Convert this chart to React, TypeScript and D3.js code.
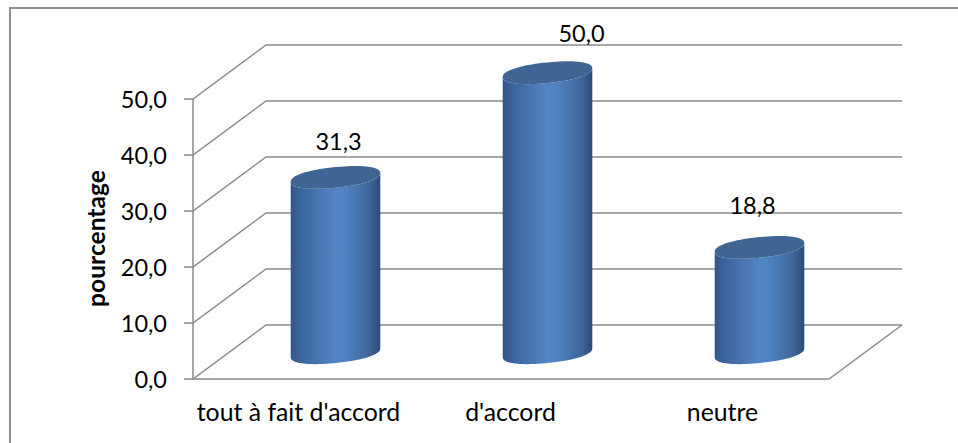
import React from "react";
import * as d3 from "d3";

// Survey responses, in percent
const categories = ["tout à fait d'accord", "d'accord", "neutre"];
const percentages = [31.3, 50.0, 18.8];
const valueLabels = ["31,3", "50,0", "18,8"];
const yTicks = [0, 10, 20, 30, 40, 50];
const yTickLabels = ["0,0", "10,0", "20,0", "30,0", "40,0", "50,0"];
const yAxisTitle = "pourcentage";

// Hand-placed offsets of the value labels from the top of each cylinder
const labelDx = [3, 34, -7];
const labelDy = [-34, -38, -40];

const WIDTH = 958;
const HEIGHT = 443;
const FONT = "Lato, 'Open Sans', sans-serif";
const GRID = "#8a8a8a";

// Front plane of the box and the depth offset towards the back wall
const FRONT_LEFT = 193;
const FRONT_RIGHT = 829;
const FRONT_BOTTOM = 379;
const FRONT_TOP = 99;
const DEPTH_X = 73;
const DEPTH_Y = -54;

const x = d3.scaleBand<string>().domain(categories).range([FRONT_LEFT, FRONT_RIGHT]);
const y = d3.scaleLinear().domain([0, 50]).range([FRONT_BOTTOM, FRONT_TOP]);

// Cylinder cross-section, a sheared and slightly squared ellipse
const RX = 44.8;
const SHEAR = 4.4;
const RY = 10.3;
const ROUNDNESS = 0.9;
const CYLINDER_SHIFT = 0.7;
const bulge = (v: number) => Math.sign(v) * Math.pow(Math.abs(v), ROUNDNESS);
const ellipsePoint = (cx: number, cy: number, t: number): [number, number] => [
  cx + RX * bulge(Math.cos(t)),
  cy - SHEAR * bulge(Math.cos(t)) - RY * bulge(Math.sin(t)),
];
const outline = d3.line().curve(d3.curveLinear);
const arc = (cx: number, cy: number, from: number, to: number) =>
  d3.range(0, 81).map((i) => ellipsePoint(cx, cy, from + ((to - from) * i) / 80));

function Cylinder({ category, value }: { category: string; value: number }) {
  const cx = (x(category) as number) + x.bandwidth() / 2 + DEPTH_X / 2;
  const baseY = y(0) + DEPTH_Y / 2 + CYLINDER_SHIFT;
  const topY = y(value) + DEPTH_Y / 2 + CYLINDER_SHIFT;
  // Front arc of the top rim, down the side, around the base and back up
  const body = [
    ...arc(cx, topY, Math.PI, 2 * Math.PI),
    ...arc(cx, baseY, 0, -Math.PI),
  ];
  const top = arc(cx, topY, 0, 2 * Math.PI);
  return (
    <g>
      <path d={outline(body) + "Z"} fill="url(#cylinderSide)" />
      <path d={outline(top) + "Z"} fill="#3f6592" />
    </g>
  );
}

export default function App() {
  return (
    <svg
      width={WIDTH}
      height={HEIGHT}
      viewBox={`0 0 ${WIDTH} ${HEIGHT}`}
      style={{ position: "absolute", left: 0, top: 0, background: "#fff" }}
      fontFamily={FONT}
    >
      <defs>
        <linearGradient id="cylinderSide" x1="0" x2="1" y1="0" y2="0">
          <stop offset="0" stopColor="#2f5689" />
          <stop offset="0.12" stopColor="#3c659e" />
          <stop offset="0.5" stopColor="#5285c5" />
          <stop offset="0.62" stopColor="#4f82c0" />
          <stop offset="0.88" stopColor="#3f6699" />
          <stop offset="1" stopColor="#2c4a74" />
        </linearGradient>
      </defs>

      {/* Chart area border: only the top and left edges are visible */}
      <path d={`M10,${HEIGHT}V8H${WIDTH}`} fill="none" stroke="#8e8e8e" strokeWidth={2} />

      {/* Back wall gridlines with their side-wall returns and tick marks */}
      {yTicks.map((t) => (
        <path
          key={t}
          d={`M${FRONT_LEFT - 9},${y(t)}H${FRONT_LEFT}L${FRONT_LEFT + DEPTH_X},${y(t) + DEPTH_Y}H${FRONT_RIGHT + DEPTH_X}`}
          fill="none"
          stroke={GRID}
          strokeWidth={1.5}
        />
      ))}

      {/* Vertical axis, floor front edge and floor right edge */}
      <path
        d={`M${FRONT_LEFT},${y(50)}V${FRONT_BOTTOM}H${FRONT_RIGHT}L${FRONT_RIGHT + DEPTH_X},${FRONT_BOTTOM + DEPTH_Y}`}
        fill="none"
        stroke={GRID}
        strokeWidth={1.5}
      />

      {categories.map((c, i) => (
        <Cylinder key={c} category={c} value={percentages[i]} />
      ))}

      {yTicks.map((t, i) => (
        <text key={t} x={167} y={y(t) + 8.5} textAnchor="end" fontSize={23.5} fill="#000">
          {yTickLabels[i]}
        </text>
      ))}

      {categories.map((c) => (
        <text
          key={c}
          x={(x(c) as number) + x.bandwidth() / 2 - 0.5}
          y={420.5}
          textAnchor="middle"
          fontSize={24.8}
          fill="#000"
        >
          {c}
        </text>
      ))}

      {categories.map((c, i) => (
        <text
          key={c}
          x={(x(c) as number) + x.bandwidth() / 2 + DEPTH_X / 2 + labelDx[i]}
          y={y(percentages[i]) + DEPTH_Y / 2 + labelDy[i] + 7.5}
          textAnchor="middle"
          fontSize={23.5}
          fill="#000"
        >
          {valueLabels[i]}
        </text>
      ))}

      <text
        transform="translate(105,238.5) rotate(-90)"
        textAnchor="middle"
        fontSize={24.6}
        fontWeight={700}
        fill="#000"
      >
        {yAxisTitle}
      </text>
    </svg>
  );
}
